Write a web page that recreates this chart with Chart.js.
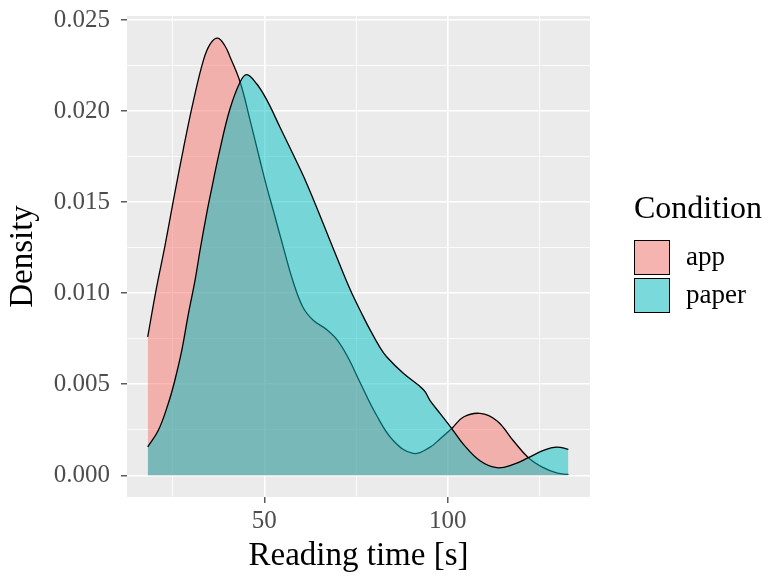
<!DOCTYPE html>
<html>
<head>
<meta charset="utf-8">
<script src="https://cdn.jsdelivr.net/npm/chart.js@4.4.0/dist/chart.umd.min.js"></script>
<style>
  body { margin: 0; background: #fff; }
  #wrap { position: relative; width: 769px; height: 579px; }
  .legend-title { position: absolute; left: 634px; top: 189px; font: 32px "Liberation Serif", serif; color: #000; }
  .key { position: absolute; left: 634px; width: 34px; height: 33px; border: 1px solid #000; background: #F2F2F2; }
  .key span { display: block; width: 100%; height: 100%; }
  .key-label { position: absolute; left: 686px; font: 27px "Liberation Serif", serif; color: #000; }
</style>
</head>
<body>
<div id="wrap">
  <canvas id="chartDensity" width="769" height="579"></canvas>
  <div id="legend"></div>
</div>
<script>
/* ---- Data ---- */
const groups = ["app", "paper"];
const fillColors = ["rgba(248, 118, 109, 0.5)", "rgba(0, 191, 196, 0.5)"];

const appX = [18.2, 20.5, 22.9, 25.2, 27.9, 30.6, 33.4, 35.3, 37.3, 39.2, 40.6, 43.4, 46.1, 48.8,
  50.7, 52.5, 55.2, 57.9, 60.6, 63.4, 67.0, 70.0, 73.0, 76.1, 80.6, 85.2, 90.6, 95.2, 97.9,
  101.1, 104.3, 108.8, 113.4, 117.9, 122.0, 126.1, 129.7, 132.9];
const appY = [0.0076, 0.0102, 0.0126, 0.0151, 0.0179, 0.0205, 0.0228, 0.0237, 0.0240, 0.0236, 0.0230, 0.0216, 0.0195, 0.0173,
  0.0158, 0.0145, 0.0125, 0.0106, 0.0092, 0.0085, 0.0080, 0.0074, 0.0064, 0.0051, 0.0033, 0.0019, 0.0012, 0.00155, 0.0020,
  0.00257, 0.0032, 0.0034, 0.0030, 0.0019, 0.00097, 0.00042, 0.00013, 0.00005];

const paperX = [18.2, 21.1, 23.8, 25.6, 27.5, 29.3, 31.1, 32.5, 34.3, 35.7, 37.9, 40.6, 43.4, 45.2, 47.9,
  50.7, 54.3, 57.9, 61.6, 66.1, 69.7, 73.4, 77.0, 78.8, 81.6, 83.4, 87.9, 93.4, 95.2, 97.9,
  101.1, 104.3, 108.8, 113.4, 117.9, 122.0, 126.1, 129.7, 132.9];
const paperY = [0.00156, 0.00247, 0.00394, 0.00522, 0.00687, 0.00888, 0.0107, 0.0124, 0.0144, 0.0158, 0.0179, 0.0201, 0.0216, 0.0220, 0.0215,
  0.0206, 0.0191, 0.0176, 0.0160, 0.0138, 0.0120, 0.0102, 0.0087, 0.0080, 0.0070, 0.0065, 0.0056, 0.0047, 0.0041, 0.0034,
  0.00257, 0.0017, 0.0008, 0.00042, 0.0006, 0.00097, 0.00137, 0.00155, 0.00143];

const xMajor = [50, 100];
const xMinor = [25, 75, 125];
const yMajor = [0, 0.005, 0.01, 0.015, 0.02, 0.025];
const yMinor = [0.0025, 0.0075, 0.0125, 0.0175, 0.0225];
const yTickLabels = ["0.000", "0.005", "0.010", "0.015", "0.020", "0.025"];
const xTickLabels = ["50", "100"];

/* ---- Helpers ---- */
const toPoints = (xs, ys) => xs.map((x, i) => ({ x, y: ys[i] }));
const isMajor = (list, v) => list.some((m) => Math.abs(m - v) < 1e-9);

// grey panel behind the plot, like ggplot's theme_grey
const panelBg = {
  id: "panelBg",
  beforeDraw(chart) {
    const { ctx, chartArea: a } = chart;
    ctx.save();
    ctx.fillStyle = "#EBEBEB";
    ctx.fillRect(a.left, a.top, a.width, a.height);
    ctx.restore();
  },
};

function gridStyle(major) {
  return {
    color: "#FFFFFF",
    lineWidth: (c) => (c.tick && isMajor(major, c.tick.value) ? 1.6 : 0.8),
    tickColor: (c) => (c.tick && isMajor(major, c.tick.value) ? "#333333" : "rgba(0,0,0,0)"),
    tickWidth: 1.2,
    tickLength: 6,
    drawTicks: true,
  };
}

/* ---- Chart ---- */
new Chart(document.getElementById("chartDensity"), {
  type: "line",
  data: {
    datasets: [
      {
        label: groups[0],
        data: toPoints(appX, appY),
        order: 2,
        backgroundColor: fillColors[0],
        borderColor: "#000000",
        borderWidth: 1.3,
        fill: "origin",
        pointRadius: 0,
        tension: 0.4,
      },
      {
        label: groups[1],
        data: toPoints(paperX, paperY),
        order: 1,
        backgroundColor: fillColors[1],
        borderColor: "#000000",
        borderWidth: 1.3,
        fill: "origin",
        pointRadius: 0,
        tension: 0.4,
      },
    ],
  },
  options: {
    responsive: false,
    animation: false,
    layout: { padding: { top: 16, right: 179, bottom: 0, left: 0 } },
    plugins: { legend: { display: false }, tooltip: { enabled: false } },
    scales: {
      x: {
        type: "linear",
        min: 12.55,
        max: 138.8,
        afterFit: (s) => { s.height = 82; s.paddingLeft = 0; s.paddingRight = 0; },
        afterBuildTicks: (s) => {
          s.ticks = [...xMinor, ...xMajor].sort((a, b) => a - b).map((v) => ({ value: v }));
        },
        grid: gridStyle(xMajor),
        border: { display: false },
        ticks: {
          autoSkip: false,
          maxRotation: 0,
          padding: 3,
          color: "#4D4D4D",
          font: { family: "Liberation Serif", size: 25 },
          callback: (v) => {
            const i = xMajor.findIndex((m) => Math.abs(m - v) < 1e-9);
            return i >= 0 ? xTickLabels[i] : "";
          },
        },
        title: {
          display: true,
          text: "Reading time [s]",
          color: "#000000",
          font: { family: "Liberation Serif", size: 33 },
          padding: { top: 0, bottom: 3 },
        },
      },
      y: {
        type: "linear",
        min: -0.00119,
        max: 0.02522,
        afterFit: (s) => { s.width = 127; s.paddingTop = 0; s.paddingBottom = 0; },
        afterBuildTicks: (s) => {
          s.ticks = [...yMinor, ...yMajor].sort((a, b) => a - b).map((v) => ({ value: v }));
        },
        grid: gridStyle(yMajor),
        border: { display: false },
        ticks: {
          autoSkip: false,
          padding: 11,
          color: "#4D4D4D",
          font: { family: "Liberation Serif", size: 25 },
          callback: (v) => {
            const i = yMajor.findIndex((m) => Math.abs(m - v) < 1e-9);
            return i >= 0 ? yTickLabels[i] : "";
          },
        },
        title: {
          display: true,
          text: "Density",
          color: "#000000",
          font: { family: "Liberation Serif", size: 33 },
          padding: { top: 4, bottom: 0 },
        },
      },
    },
  },
  plugins: [panelBg],
});

/* ---- Legend (ggplot style, right side) ---- */
const legend = document.getElementById("legend");
legend.innerHTML =
  `<div class="legend-title">Condition</div>` +
  groups
    .map((g, i) => {
      const top = 240 + i * 38;
      return `<div class="key" style="top:${top}px"><span style="background:${fillColors[i]}"></span></div>` +
        `<div class="key-label" style="top:${top + 1}px">${g}</div>`;
    })
    .join("");
</script>
</body>
</html>
